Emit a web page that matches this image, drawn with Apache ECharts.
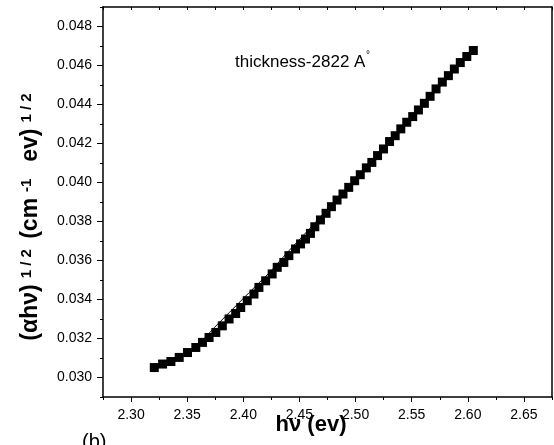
<!DOCTYPE html>
<html>
<head>
    <meta charset="utf-8"/>
    <script src="https://cdn.jsdelivr.net/npm/echarts@6/dist/echarts.min.js"></script>
    <style>
        html, body { margin: 0; padding: 0; background: #fff; }
    </style>
</head>
<body>
<div id="main" style="width: 554px;height:445px;"></div>
<script type="text/javascript">
    // measured points (photon energy, eV) and (alpha h nu)^1/2
    var hv = [2.3207, 2.3281, 2.3355, 2.3429, 2.3503, 2.3577, 2.3636, 2.3695, 2.3755, 2.3813,
        2.3873, 2.3932, 2.3977, 2.4035, 2.4095, 2.4139, 2.4199, 2.4257, 2.4302, 2.4361,
        2.4406, 2.4465, 2.4510, 2.4554, 2.4598, 2.4637, 2.4687, 2.4737, 2.4785, 2.4835,
        2.4888, 2.4939, 2.4992, 2.5042, 2.5096, 2.5145, 2.5196, 2.5249, 2.5303, 2.5353,
        2.5403, 2.5456, 2.5509, 2.5560, 2.5613, 2.5664, 2.5717, 2.5773, 2.5827, 2.5880,
        2.5933, 2.5991, 2.6049];
    var ahv = [0.03051, 0.03069, 0.03082, 0.03103, 0.03128, 0.03154, 0.03180, 0.03205, 0.03231, 0.03265,
        0.03300, 0.03328, 0.03359, 0.03394, 0.03428, 0.03462, 0.03496, 0.03531, 0.03565, 0.03590,
        0.03625, 0.03659, 0.03685, 0.03710, 0.03739, 0.03773, 0.03808, 0.03842, 0.03876, 0.03910,
        0.03941, 0.03975, 0.04009, 0.04040, 0.04075, 0.04103, 0.04138, 0.04172, 0.04210, 0.04240,
        0.04275, 0.04309, 0.04338, 0.04372, 0.04406, 0.04442, 0.04480, 0.04515, 0.04548, 0.04582,
        0.04615, 0.04646, 0.04677];

    // thin fitted line under the points
    var fitHv = [2.3518, 2.3651, 2.3740, 2.3873, 2.4051, 2.4228, 2.4406, 2.4540, 2.4672, 2.4850, 2.5383, 2.6049];
    var fitY = [0.03137, 0.03199, 0.03255, 0.03332, 0.03435, 0.03535, 0.03650, 0.03732, 0.03814, 0.03922, 0.04261, 0.04677];

    // ticks
    var xTicks = [2.30, 2.35, 2.40, 2.45, 2.50, 2.55, 2.60, 2.65];
    var xMinorTicks = [2.275, 2.325, 2.375, 2.425, 2.475, 2.525, 2.575, 2.625, 2.675];
    var yTicks = [0.030, 0.032, 0.034, 0.036, 0.038, 0.040, 0.042, 0.044, 0.046, 0.048];
    var yMinorTicks = [0.029, 0.031, 0.033, 0.035, 0.037, 0.039, 0.041, 0.043, 0.045, 0.047, 0.049];

    var font = '"Liberation Sans", Arial, sans-serif';

    var myChart = echarts.init(document.getElementById('main'));

    var lineStyle = {color: '#000', width: 1.5};

    function pairs(xs, ys) {
        var out = [];
        for (var i = 0; i < xs.length; i++) out.push([xs[i], ys[i]]);
        return out;
    }

    option = {
        animation: false,
        backgroundColor: '#fff',
        grid: {left: 103, right: 2, top: 7, bottom: 48},
        xAxis: [{
            type: 'value', position: 'bottom', min: 2.275, max: 2.675,
            axisLine: {show: true, lineStyle: lineStyle},
            splitLine: {show: false},
            axisTick: {show: true, customValues: xTicks, length: 5, inside: false, lineStyle: {color: '#000', width: 1}},
            axisLabel: {
                customValues: xTicks, margin: 11, color: '#000', fontSize: 14, fontFamily: font,
                formatter: function (v) { return v.toFixed(2); }
            }
        }, {
            type: 'value', position: 'bottom', min: 2.275, max: 2.675,
            axisLine: {show: false}, splitLine: {show: false}, axisLabel: {show: false},
            axisTick: {show: true, customValues: xMinorTicks, length: 3, lineStyle: {color: '#000', width: 1}}
        }, {
            type: 'value', position: 'top', min: 2.275, max: 2.675, interval: 0.025,
            axisLine: {show: true, lineStyle: lineStyle}, splitLine: {show: false}, axisLabel: {show: false},
            axisTick: {show: true, inside: true, length: 3, lineStyle: {color: '#000', width: 1}}
        }],
        yAxis: [{
            type: 'value', position: 'left', min: 0.029, max: 0.049,
            axisLine: {show: true, lineStyle: lineStyle},
            splitLine: {show: false},
            axisTick: {show: true, customValues: yTicks, length: 6, lineStyle: {color: '#000', width: 1}},
            axisLabel: {
                customValues: yTicks, margin: 11, color: '#000', fontSize: 14, fontFamily: font,
                formatter: function (v) { return v.toFixed(3); }
            }
        }, {
            type: 'value', position: 'left', min: 0.029, max: 0.049,
            axisLine: {show: false}, splitLine: {show: false}, axisLabel: {show: false},
            axisTick: {show: true, customValues: yMinorTicks, length: 3, lineStyle: {color: '#000', width: 1}}
        }, {
            type: 'value', position: 'right', min: 0.029, max: 0.049,
            axisLine: {show: true, lineStyle: lineStyle}, splitLine: {show: false},
            axisLabel: {show: false}, axisTick: {show: false}
        }],
        series: [{
            type: 'line',
            data: pairs(fitHv, fitY),
            showSymbol: false,
            lineStyle: {color: '#000', width: 1},
            z: 1
        }, {
            type: 'scatter',
            data: pairs(hv, ahv),
            symbol: 'rect',
            symbolSize: 9,
            itemStyle: {color: '#000', opacity: 1},
            z: 2
        }],
        graphic: [{
            type: 'text', left: 235, top: 54,
            style: {text: 'thickness-2822 A', font: '17px ' + font, fill: '#000'}
        }, {
            type: 'text', left: 366, top: 50,
            style: {text: '°', font: '10px ' + font, fill: '#000'}
        }, {
            type: 'text', x: 311, y: 425,
            style: {text: 'hν (ev)', font: 'bold 22px ' + font, fill: '#000', align: 'center', verticalAlign: 'middle'},
            z: 10
        }, {
            type: 'text', left: 82, top: 432,
            style: {text: '(b)', font: '20px ' + font, fill: '#000'}
        }, {
            type: 'text', x: 31, y: 215, rotation: Math.PI / 2,
            style: {
                text: '{m|(αhν)}{s|1 / 2}{m| (cm}{s|-1}{m|  ev)}{s|1 / 2}',
                align: 'center', verticalAlign: 'middle', fill: '#000',
                rich: {
                    m: {font: 'bold 23px ' + font, lineHeight: 23, verticalAlign: 'bottom', fill: '#000'},
                    s: {font: 'bold 15px ' + font, lineHeight: 15, padding: [0, 4, 28, 6], verticalAlign: 'top', fill: '#000'}
                }
            }
        }]
    };

    myChart.setOption(option);
</script>
</body>
</html>
